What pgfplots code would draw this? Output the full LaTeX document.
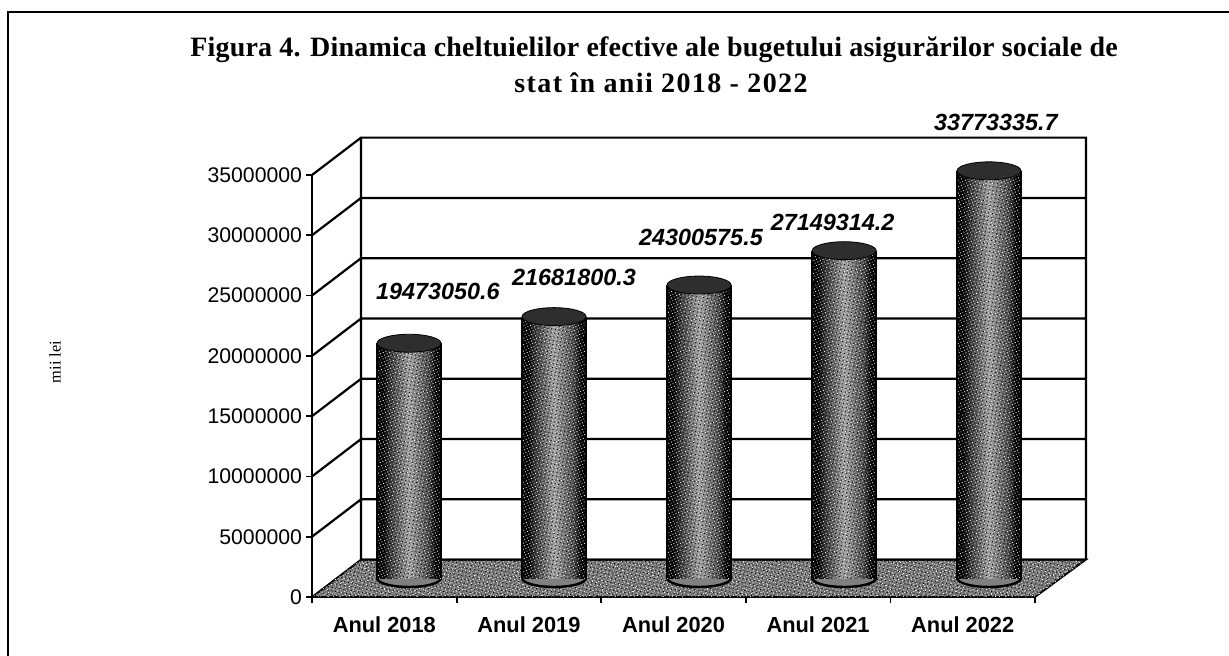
\documentclass[border=0pt]{standalone}
\usepackage{fontspec}
\setmainfont{Liberation Serif}
\newfontfamily\arial{Liberation Sans}
\usepackage{pgfplots}
\pgfplotsset{compat=1.18}
\usetikzlibrary{patterns.meta}

% base of the cylinders, above the front floor edge
\def\ybase{1575000}
\definecolor{floorgray}{gray}{0.44}

\pgfdeclarehorizontalshading{cylshade}{100bp}{
  color(0bp)=(black); color(29.5bp)=(black); color(35bp)=(black!80);
  color(50bp)=(black!38); color(65bp)=(black!72); color(71bp)=(black); color(100bp)=(black)}

\pgfplotsset{
  speckw/.style={draw=none,forget plot,pattern={Dots[distance=1.45pt,radius=.3pt,angle=25]},pattern color=white},
  specka/.style={draw=none,forget plot,pattern={Dots[distance=2.3pt,radius=.28pt,angle=62]},pattern color=white},
  speckk/.style={draw=none,forget plot,pattern={Dots[distance=1.9pt,radius=.33pt,angle=80]},pattern color=black},
}

% #1 centre x, #2 left, #3 right, #4 top (base + value)
\newcommand\cyl[4]{
  \addplot[only marks,forget plot,mark=*,mark size=16pt,
    mark options={yscale=0.28,draw=black,line width=1.2pt,fill=black!50}] coordinates {(#1,\ybase)};
  \addplot[forget plot,draw=none,shading=cylshade]
    coordinates {(#2,\ybase) (#3,\ybase) (#3,#4) (#2,#4)} --cycle;
  \addplot[speckw] coordinates {(#2,\ybase) (#3,\ybase) (#3,#4) (#2,#4)} --cycle;
  \addplot[speckk] coordinates {(#2,\ybase) (#3,\ybase) (#3,#4) (#2,#4)} --cycle;
  \addplot[black,line width=1.2pt,forget plot] coordinates {(#2,\ybase) (#2,#4) (0,nan) (#3,\ybase) (#3,#4)};
  \addplot[only marks,forget plot,mark=*,mark size=16pt,
    mark options={yscale=0.28,draw=black,fill=black!82}] coordinates {(#1,#4)};
}

\begin{document}
\begin{tikzpicture}[x=0.5pt,y=-0.5pt]
\useasboundingbox (0,0) rectangle (1229,656);
\draw[line width=1.2pt] (1229,12) -- (8,12) -- (8,656);
\node[font=\bfseries\fontsize{14}{16}\selectfont] at (654,50)
  {\addfontfeature{LetterSpace=0.7}Figura 4. Dinamica cheltuielilor efective ale bugetului asigurărilor sociale de};
\node[font=\bfseries\fontsize{14}{16}\selectfont] at (661,83)
  {\addfontfeature{LetterSpace=4.9}stat în anii 2018 - 2022};
\node[rotate=90,font=\fontsize{8.2}{10}\selectfont] at (55,362) {mii lei};

\begin{axis}[
  at={(156pt,-298.5pt)},anchor=south west,
  scale only axis,width=361.5pt,height=211pt,
  xmin=0,xmax=5,ymin=0,ymax=35000000,
  clip=false,clip mode=individual,
  separate axis lines,
  axis x line=bottom,axis y line=left,
  axis line style={-,line width=1.4pt},
  unbounded coords=jump,
  xtick={0.5,1.5,2.5,3.5,4.5},
  xticklabels={Anul 2018,Anul 2019,Anul 2020,Anul 2021,Anul 2022},
  minor xtick={0,1,2,3,4,5},
  ytick={0,5000000,10000000,15000000,20000000,25000000,30000000,35000000},
  scaled y ticks=false,
  tick align=outside,
  major tick length=3pt,minor tick length=3pt,
  major x tick style={draw=none},
  minor x tick style={black,line width=0.9pt},
  y tick style={black,line width=0.9pt},
  xticklabel style={font=\arial\bfseries\fontsize{10.9}{12}\selectfont,yshift=-3.5pt},
  yticklabel style={font=\arial\fontsize{10.6}{12}\selectfont,xshift=1.5pt,
    /pgf/number format/.cd,fixed,1000 sep={},assume math mode=true},
]
% floor, behind the cylinder bases
\addplot[fill=floorgray,draw=black,line width=0.9pt,forget plot]
  coordinates {(0,0) (5,0) (5.352,3100000) (0.339,3100000)} --cycle;
\addplot[speckw] coordinates {(0,0) (5,0) (5.352,3100000) (0.339,3100000)} --cycle;
\addplot[specka] coordinates {(0,0) (5,0) (5.352,3100000) (0.339,3100000)} --cycle;
\addplot[speckk] coordinates {(0,0) (5,0) (5.352,3100000) (0.339,3100000)} --cycle;
% back wall outline, grid lines and side wall diagonals
\addplot[black,line width=1.1pt,forget plot] coordinates {
  (0.339,3100000) (0.339,38100000) (5.352,38100000) (5.352,3100000) (0,nan)
  (0.339,3100000) (5.352,3100000) (0,nan)
  (0,5000000) (0.339,8100000) (5.352,8100000) (0,nan)
  (0,10000000) (0.339,13100000) (5.352,13100000) (0,nan)
  (0,15000000) (0.339,18100000) (5.352,18100000) (0,nan)
  (0,20000000) (0.339,23100000) (5.352,23100000) (0,nan)
  (0,25000000) (0.339,28100000) (5.352,28100000) (0,nan)
  (0,30000000) (0.339,33100000) (5.352,33100000) (0,nan)
  (0,35000000) (0.339,38100000)
};
% values + \ybase on the top edge
\cyl{0.671}{0.450}{0.892}{21048050.6}
\cyl{1.674}{1.453}{1.895}{23256800.3}
\cyl{2.677}{2.456}{2.898}{25875575.5}
\cyl{3.680}{3.459}{3.901}{28724314.2}
\cyl{4.682}{4.461}{4.903}{35348335.7}

\tikzset{vallab/.style={font=\arial\bfseries\itshape\fontsize{11.7}{13}\selectfont}}
\node[vallab] at (axis cs:0.871,25364000) {19473050.6};
\node[vallab] at (axis cs:1.812,26525000) {21681800.3};
\node[vallab] at (axis cs:2.690,29842000) {24300575.5};
\node[vallab] at (axis cs:3.600,31086000) {27149314.2};
\node[vallab] at (axis cs:4.730,39386000) {33773335.7};
\end{axis}
\end{tikzpicture}
\end{document}
